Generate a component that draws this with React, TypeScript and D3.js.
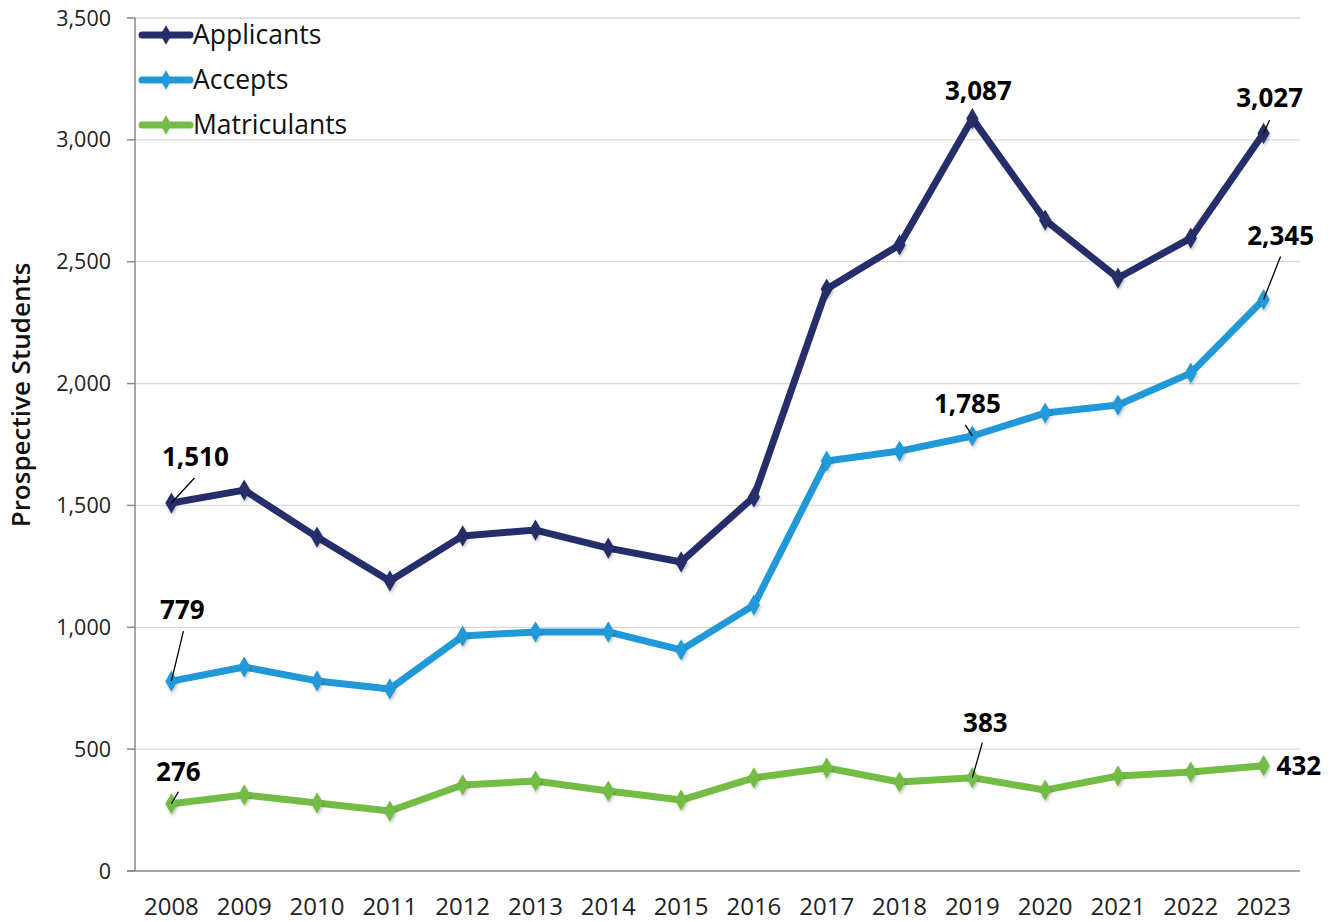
import React from "react";
import * as d3 from "d3";

const years = ["2008","2009","2010","2011","2012","2013","2014","2015","2016","2017","2018","2019","2020","2021","2022","2023"];
const applicants = [1510,1563,1370,1190,1375,1399,1325,1268,1535,2388,2569,3087,2671,2433,2597,3027];
const accepts = [779,837,780,747,964,981,981,907,1091,1682,1723,1785,1879,1912,2043,2345];
const matriculants = [276,312,279,246,353,369,328,291,382,423,365,383,332,390,406,432];
const yTicks = [0,500,1000,1500,2000,2500,3000,3500];
const seriesNames = ["Applicants","Accepts","Matriculants"];
const seriesColors = ["#252d6b","#2199d8","#73bd45"];

// annotation: series index, year index, label offsets
const annotations = [
  { s: 0, i: 0, dx: 24, dy: -46, lx2: 23, ly2: -25, anchor: "middle" },
  { s: 0, i: 11, dx: 6, dy: -28, lx2: 0, ly2: 0, anchor: "middle" },
  { s: 0, i: 15, dx: 6, dy: -35, lx2: 6, ly2: -13, anchor: "middle" },
  { s: 1, i: 0, dx: 11, dy: -71, lx2: 12, ly2: -50, anchor: "middle" },
  { s: 1, i: 11, dx: -5, dy: -32, lx2: -7, ly2: -11, anchor: "middle" },
  { s: 1, i: 15, dx: 17, dy: -64, lx2: 17, ly2: -43, anchor: "middle" },
  { s: 2, i: 0, dx: 7, dy: -32, lx2: 7, ly2: -12, anchor: "middle" },
  { s: 2, i: 11, dx: 13, dy: -55, lx2: 10, ly2: -35, anchor: "middle" },
  { s: 2, i: 15, dx: 13, dy: 0, lx2: 0, ly2: 0, anchor: "start" },
];

export default function App() {
  const W = 1338, H = 922;
  const x0 = 135, x1 = 1300, yTop = 18, yBot = 871;
  const x = d3.scaleBand<string>().domain(years).range([x0, x1]);
  const y = d3.scaleLinear().domain([0, 3500]).range([yBot, yTop]);
  const cx = (yr: string) => (x(yr) as number) + x.bandwidth() / 2;
  const data = [applicants, accepts, matriculants];
  const line = d3.line<number>().x((_, i) => cx(years[i])).y((v) => y(v));
  const diamond = d3.symbol().type(d3.symbolDiamond).size(130)() as string;
  const fmt = d3.format(",");
  const font = "'Open Sans', 'Noto Sans', sans-serif";

  return (
    <svg width={W} height={H} style={{ position: "absolute", left: 0, top: 0, background: "#fff" }} fontFamily={font}>
      <defs>
        <filter id="sh" x="-50%" y="-50%" width="200%" height="200%">
          <feDropShadow dx="1" dy="2" stdDeviation="1.5" floodColor="#000" floodOpacity="0.25" />
        </filter>
      </defs>
      {yTicks.map((t) => (
        <g key={t}>
          {t > 0 && <line x1={x0} x2={x1} y1={y(t)} y2={y(t)} stroke="#d9d9d9" strokeWidth={1.3} />}
          <line x1={x0 - 8} x2={x0} y1={y(t)} y2={y(t)} stroke="#898989" strokeWidth={1.5} />
          <text x={111} y={y(t)} dy="0.35em" textAnchor="end" fontSize={21.5} fill="#222">{fmt(t)}</text>
        </g>
      ))}
      <line x1={x0} x2={x0} y1={yTop} y2={yBot} stroke="#898989" strokeWidth={1.5} />
      <line x1={x0 - 8} x2={x1} y1={yBot} y2={yBot} stroke="#898989" strokeWidth={1.5} />
      {years.map((yr) => (
        <text key={yr} x={cx(yr)} y={915} textAnchor="middle" fontSize={24} fill="#222">{yr}</text>
      ))}
      <text transform="translate(30,395) rotate(-90)" textAnchor="middle" fontSize={26} fontWeight={600} fill="#111">Prospective Students</text>

      {data.map((vals, s) => (
        <g key={s}>
          <path d={line(vals) as string} fill="none" stroke={seriesColors[s]} strokeWidth={7} strokeLinejoin="round" />
          {vals.map((v, i) => (
            <path key={i} d={diamond} transform={`translate(${cx(years[i])},${y(v)})`} fill={seriesColors[s]} filter="url(#sh)" />
          ))}
        </g>
      ))}

      {annotations.map((a, k) => {
        const px = cx(years[a.i]);
        const py = y(data[a.s][a.i]);
        return (
          <g key={k}>
            {(a.lx2 !== 0 || a.ly2 !== 0) && (
              <line x1={px} y1={py} x2={px + a.lx2} y2={py + a.ly2} stroke="#000" strokeWidth={1.3} />
            )}
            <text x={px + a.dx} y={py + a.dy} dy="0.35em" textAnchor={a.anchor as any} fontSize={26} fontWeight={700} fill="#000">
              {fmt(data[a.s][a.i])}
            </text>
          </g>
        );
      })}

      {seriesNames.map((n, s) => {
        const ly = 35 + s * 45;
        return (
          <g key={n}>
            <line x1={142} x2={190} y1={ly} y2={ly} stroke={seriesColors[s]} strokeWidth={7} strokeLinecap="round" />
            <path d={d3.symbol().type(d3.symbolDiamond).size(110)() as string} transform={`translate(166,${ly})`} fill={seriesColors[s]} />
            <text x={193} y={ly} dy="0.35em" fontSize={26.5} fill="#111">{n}</text>
          </g>
        );
      })}
    </svg>
  );
}
